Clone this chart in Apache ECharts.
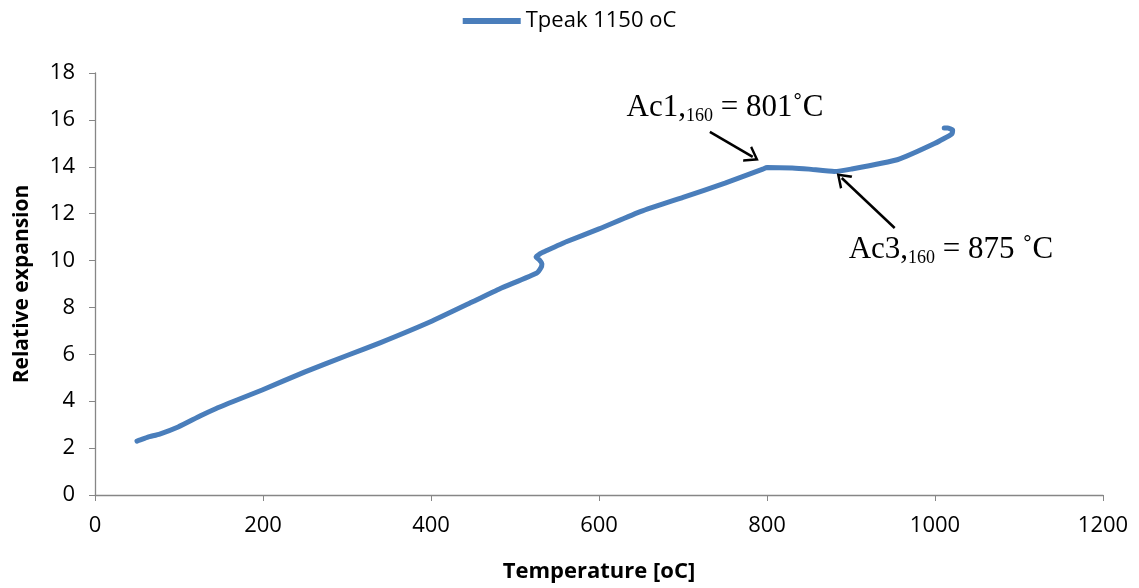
<!DOCTYPE html>
<html><head><meta charset="utf-8">
<script src="https://cdn.jsdelivr.net/npm/echarts@6/dist/echarts.min.js"></script>
<style>html,body{margin:0;padding:0;background:#fff}#c{width:1139px;height:588px}</style>
</head><body><div id="c"></div>
<script>
const seriesName = 'Tpeak 1150 oC';
const temperature = [50, 54, 63, 77, 99, 125, 143, 169, 199, 250, 300, 340, 400, 450, 482, 526, 531, 532, 529, 525, 530, 536, 561, 600, 650, 700, 750, 795, 800, 830, 850, 880, 900, 955, 1000, 1020, 1021, 1015, 1011];
const expansion   = [2.30, 2.35, 2.47, 2.6, 2.9, 3.37, 3.67, 4.05, 4.48, 5.25, 5.95, 6.5, 7.4, 8.25, 8.8, 9.47, 9.7, 9.85, 10.03, 10.15, 10.3, 10.4, 10.8, 11.35, 12.1, 12.7, 13.3, 13.9, 13.97, 13.95, 13.9, 13.8, 13.9, 14.3, 15.0, 15.4, 15.57, 15.65, 15.65];
const xTicks = {min: 0, max: 1200, interval: 200};
const yTicks = {min: 0, max: 18, interval: 2};
// annotation texts and anchor points in data units
const annTexts = [
  {label: 'ac1', coord: [750, 16.5]},
  {label: 'ac3', coord: [1019, 10.45]}
];
const annArrows = [
  [[732, 15.49], [783, 14.42]],
  [[952, 11.39], [889, 13.52]]
];

const chart = echarts.init(document.getElementById('c'));
const data = temperature.map((t, i) => [t, expansion[i]]);
const rich = {
  m: {fontFamily: 'Liberation Serif', fontSize: 31, color: '#000'},
  s: {fontFamily: 'Liberation Serif', fontSize: 18, color: '#000', verticalAlign: 'bottom', padding: [16, 0, 0, 0]}
};
const texts = {
  ac1: '{m|Ac1,}{s|160}{m| = 801˚C}',
  ac3: '{m|Ac3,}{s|160}{m| = 875 ˚C}'
};
const axisLine = {lineStyle: {color: '#868686', width: 1.3}};
chart.setOption({
  animation: false,
  grid: {left: 95, right: 36, top: 73, bottom: 93, containLabel: false, outerBoundsMode: 'none'},
  legend: {
    top: 5, left: 'center',
    itemWidth: 58, itemHeight: 12, itemGap: 4,
    textStyle: {fontFamily: 'Open Sans', fontSize: 22, color: '#000'},
    data: [{name: seriesName, icon: 'path://M0,0 L58,0 L58,6 L0,6 Z'}]
  },
  xAxis: {
    type: 'value', min: xTicks.min, max: xTicks.max, interval: xTicks.interval,
    name: 'Temperature [oC]', nameLocation: 'middle', nameGap: 66,
    nameTextStyle: {fontFamily: 'Open Sans', fontSize: 22, fontWeight: 'bold', color: '#000'},
    axisLine: axisLine, axisTick: {show: true, length: 6, lineStyle: {color: '#868686'}},
    axisLabel: {fontFamily: 'Open Sans', fontSize: 22, color: '#000', margin: 20, formatter: v => String(v)},
    splitLine: {show: false}
  },
  yAxis: {
    type: 'value', min: yTicks.min, max: yTicks.max, interval: yTicks.interval,
    name: 'Relative expansion', nameLocation: 'middle', nameGap: 62, nameRotate: 90,
    nameTextStyle: {fontFamily: 'Open Sans', fontSize: 21, fontWeight: 'bold', color: '#000'},
    axisLine: {show: true, lineStyle: {color: '#868686', width: 1.3}},
    axisTick: {show: true, length: 6, lineStyle: {color: '#868686'}},
    axisLabel: {fontFamily: 'Open Sans', fontSize: 22, color: '#000', margin: 20, formatter: v => String(v)},
    splitLine: {show: false}
  },
  series: [{
    name: seriesName, type: 'line', data: data, showSymbol: false, smooth: 0.15,
    lineStyle: {color: '#4a7ebb', width: 5, cap: 'round', join: 'round'},
    itemStyle: {color: '#4a7ebb'},
    markLine: {
      silent: true, animation: false,
      symbol: ['none', 'path://M0,12 L6,0 L12,12 L10.5,13 L6,4 L1.5,13 Z'],
      symbolSize: [18, 14],
      lineStyle: {color: '#000', width: 2.5, type: 'solid'},
      label: {show: false},
      data: annArrows.map(a => [{coord: a[0]}, {coord: a[1]}])
    },
    markPoint: {
      silent: true, symbol: 'circle', symbolSize: 0,
      data: annTexts.map(a => ({
        coord: a.coord,
        label: {show: true, position: 'inside', formatter: texts[a.label], rich: rich}
      }))
    }
  }]
});
</script></body></html>
